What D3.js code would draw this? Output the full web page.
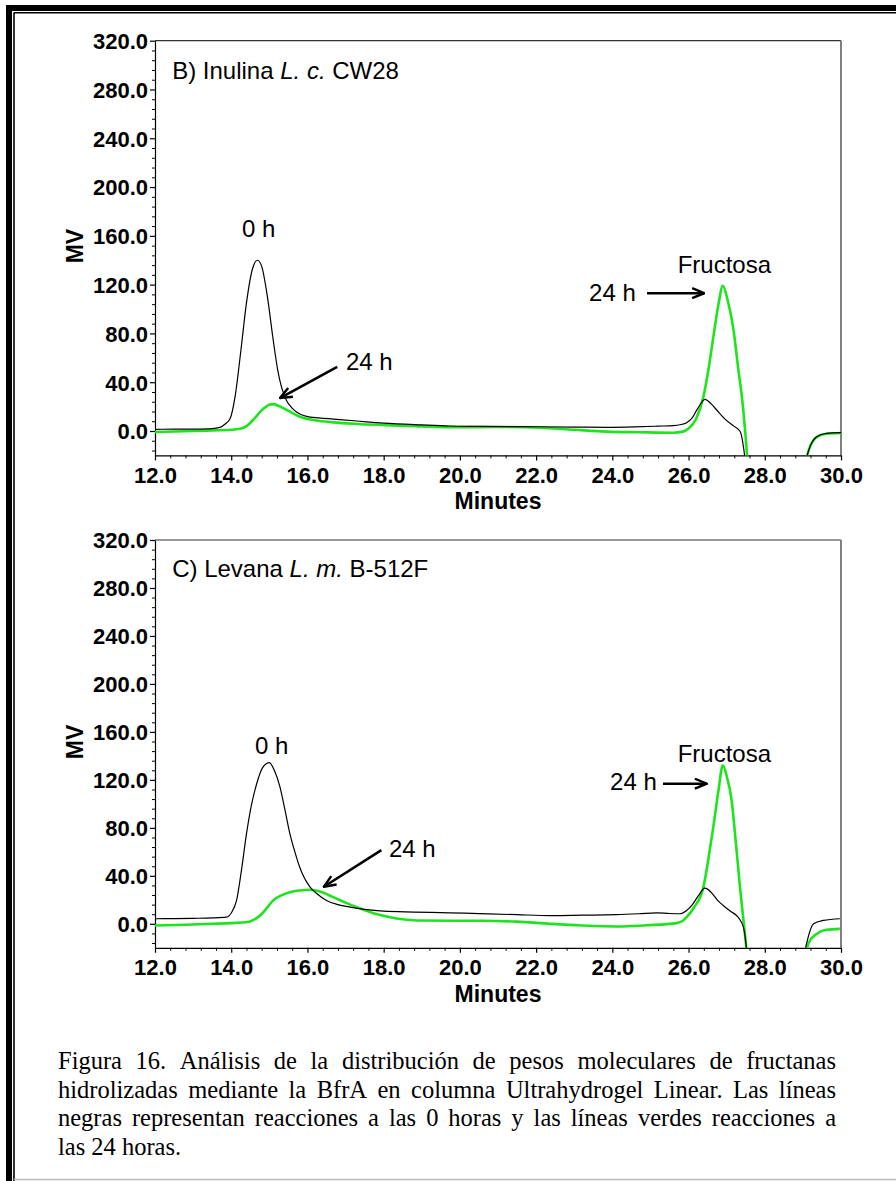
<!DOCTYPE html>
<html>
<head>
<meta charset="utf-8">
<script src="https://cdn.jsdelivr.net/npm/d3@7"></script>
<style>
  html, body { margin: 0; padding: 0; background: #fff; }
  svg { display: block; }
</style>
</head>
<body>
<svg id="fig" width="896" height="1181"></svg>
<script>
// ---- axis ticks ----
const timeTicks = [12, 14, 16, 18, 20, 22, 24, 26, 28, 30];
const mvTicks = [0, 40, 80, 120, 160, 200, 240, 280, 320];
const timeDomain = [12, 30];
const mvDomain = [-20, 320];

// ---- chromatograms: [minutes, mV]; null breaks the trace where it leaves the plot ----
const inulina0h = [
  [12.0, 1.4], [12.5, 1.5], [13.0, 1.6], [13.5, 2.0], [13.7, 3.0], [13.85, 6], [13.97, 10],
  [14.1, 28], [14.25, 65], [14.4, 105], [14.55, 132], [14.69, 140], [14.8, 135], [14.95, 110],
  [15.1, 75], [15.22, 50], [15.32, 36], [15.45, 25], [15.59, 19], [15.8, 14], [15.98, 12],
  [16.3, 10.8], [16.68, 9.8], [17.3, 8.2], [18.0, 6.5], [19.0, 5], [19.74, 4.1], [20.5, 3.8],
  [21.3, 3.6], [22.1, 3.5], [23.0, 3.2], [23.85, 3.0], [24.6, 3.4], [25.2, 4.0], [25.6, 4.4],
  [25.8, 5.3], [25.95, 6.8], [26.1, 11], [26.25, 19], [26.43, 26], [26.6, 22], [26.74, 17.2],
  [26.95, 10], [27.18, 4.2], [27.3, 1.5], [27.37, -1.5], [27.44, -12.9], [27.5, -28],
  null,
  [29.05, -28], [29.15, -16], [29.36, -4.7], [29.62, -1.9], [30.0, -1.4]
];
const inulina24h = [
  [12.0, -0.8], [12.5, -0.4], [13.0, 0], [13.5, 0.5], [14.0, 1.0], [14.23, 1.8], [14.4, 4],
  [14.6, 10], [14.8, 17], [15.0, 21.5], [15.1, 22], [15.25, 20.5], [15.5, 16.5], [15.8, 11.7],
  [16.2, 8.8], [16.67, 7.1], [17.3, 5.8], [18.0, 4.9], [19.0, 3.8], [19.74, 3.2], [20.5, 3.2],
  [21.3, 3.3], [22.1, 2.7], [23.0, 1.0], [23.85, -0.5], [24.7, -1.0], [25.6, -1.4], [25.85, -0.5],
  [26.0, 2], [26.2, 10], [26.39, 28], [26.52, 50], [26.65, 77], [26.78, 103], [26.9, 119],
  [27.02, 108], [27.18, 82.8], [27.3, 52], [27.4, 28], [27.48, 2], [27.53, -18], [27.56, -30],
  null,
  [29.05, -28], [29.15, -16], [29.36, -5], [29.62, -2.2], [30.0, -1.6]
];
const levana0h = [
  [12.0, 4.2], [12.5, 4.4], [13.0, 4.6], [13.5, 4.9], [13.88, 5.5], [14.0, 9], [14.14, 19.5],
  [14.27, 45], [14.4, 75], [14.53, 99], [14.67, 117], [14.82, 130], [15.0, 134.4], [15.13, 128],
  [15.28, 114], [15.41, 95], [15.54, 75], [15.67, 60], [15.8, 47], [16.07, 30.6], [16.25, 25],
  [16.5, 19.5], [16.8, 16], [17.12, 13.9], [17.5, 12], [17.99, 10.5], [18.8, 9.8], [19.74, 9.2],
  [20.5, 8.5], [21.5, 7.6], [22.37, 6.9], [23.2, 7.2], [24.1, 7.6], [24.7, 8.4], [25.16, 9.2],
  [25.5, 8.6], [25.77, 8.4], [25.95, 11.1], [26.1, 16], [26.25, 23], [26.43, 29.7], [26.6, 26],
  [26.75, 20], [26.91, 15.3], [27.1, 10.5], [27.3, 5.5], [27.44, -2.8], [27.5, -15], [27.54, -28],
  null,
  [29.02, -28], [29.1, -16], [29.28, 0], [29.54, 2.8], [29.97, 4.2]
];
const levana24h = [
  [12.0, -1.4], [12.8, -0.8], [13.5, 0], [14.0, 0.6], [14.4, 1.3], [14.6, 3.5], [14.76, 6.9],
  [14.93, 13], [15.1, 19.5], [15.3, 23.5], [15.54, 26.4], [15.8, 27.8], [16.07, 28.4],
  [16.35, 26.8], [16.68, 22.2], [17.05, 17], [17.47, 11.7], [17.8, 8.2], [18.17, 5.5],
  [18.5, 3.8], [18.87, 2.8], [19.74, 2.6], [20.6, 2.6], [21.5, 1.8], [22.37, 0], [23.2, -1.4],
  [24.11, -2.2], [24.9, -1.2], [25.69, 0.6], [25.85, 2.5], [25.95, 5.5], [26.15, 14],
  [26.39, 30.6], [26.52, 54], [26.65, 80.7], [26.78, 110], [26.9, 132.2], [27.01, 122],
  [27.13, 103], [27.24, 68], [27.35, 30.6], [27.44, 3], [27.52, -21], [27.55, -30],
  null,
  [29.06, -28], [29.15, -16], [29.36, -8.4], [29.62, -5], [29.97, -4.2]
];

// ---- panel headings and annotations (anchored in data units) ----
const inulinaTitle = ["B) Inulina ", "L. c.", " CW28"];
const levanaTitle = ["C) Levana ", "L. m.", " B-512F"];
const inulinaNotes = [
  { text: "0 h", t: 14.72, v: 159, anchor: "middle" },
  { text: "24 h", t: 17.01, v: 50, anchor: "start", arrow: [16.78, 52.5, 15.28, 27] },
  { text: "Fructosa", t: 26.94, v: 129.5, anchor: "middle" },
  { text: "24 h", t: 23.39, v: 106.6, anchor: "start", arrow: [24.91, 113, 26.41, 113] }
];
const levanaNotes = [
  { text: "0 h", t: 15.06, v: 141.6, anchor: "middle" },
  { text: "24 h", t: 18.14, v: 55.7, anchor: "start", arrow: [17.94, 61.5, 16.43, 30.9] },
  { text: "Fructosa", t: 26.94, v: 134.9, anchor: "middle" },
  { text: "24 h", t: 23.94, v: 111.6, anchor: "start", arrow: [25.33, 116.8, 26.48, 116.8] }
];

const captionLines = [
  "Figura 16. Análisis de la distribución de pesos moleculares de fructanas",
  "hidrolizadas mediante la BfrA en columna Ultrahydrogel Linear. Las líneas",
  "negras representan reacciones a las 0 horas y las líneas verdes reacciones a",
  "las 24 horas."
];

// ---- drawing ----
const svg = d3.select("#fig");
const SANS = "'Liberation Sans', Arial, sans-serif";
const SERIF = "'Liberation Serif', 'Times New Roman', serif";
const GREEN = "#1ee41e";

// page frame: thick outer rule plus thin inner rule, light rule at the foot
svg.append("rect").attr("x", 6).attr("y", 5).attr("width", 6).attr("height", 1176).attr("fill", "#000");
svg.append("rect").attr("x", 6).attr("y", 5).attr("width", 890).attr("height", 6).attr("fill", "#000");
svg.append("line").attr("x1", 14).attr("x2", 14).attr("y1", 12.5).attr("y2", 1181)
  .attr("stroke", "#000").attr("stroke-width", 1.6);
svg.append("line").attr("x1", 14).attr("x2", 896).attr("y1", 12.8).attr("y2", 12.8)
  .attr("stroke", "#000").attr("stroke-width", 1.6);
svg.append("line").attr("x1", 14).attr("x2", 896).attr("y1", 1179.5).attr("y2", 1179.5)
  .attr("stroke", "#bbb").attr("stroke-width", 1.5);

const defs = svg.append("defs");
defs.append("marker").attr("id", "head")
  .attr("viewBox", "0 0 14 12").attr("refX", 13).attr("refY", 6)
  .attr("markerWidth", 14).attr("markerHeight", 12).attr("markerUnits", "userSpaceOnUse")
  .attr("orient", "auto")
  .append("path").attr("d", "M1,1 L13,6 L1,11").attr("fill", "none")
  .attr("stroke", "#000").attr("stroke-width", 2.4);

function drawPanel(id, cfg) {
  const x = d3.scaleLinear().domain(timeDomain).range([155, 841]);
  const y = d3.scaleLinear().domain(mvDomain).range([cfg.bottom, cfg.top]);
  const g = svg.append("g");

  defs.append("clipPath").attr("id", "clip-" + id)
    .append("rect").attr("x", 155).attr("y", cfg.top)
    .attr("width", 686).attr("height", cfg.bottom - cfg.top);

  // frame top and right
  g.append("line").attr("x1", 155).attr("x2", 841).attr("y1", cfg.top).attr("y2", cfg.top)
    .attr("stroke", "#333").attr("stroke-width", 1.2);
  g.append("line").attr("x1", 841).attr("x2", 841).attr("y1", cfg.top).attr("y2", cfg.bottom)
    .attr("stroke", "#808080").attr("stroke-width", 2);

  // minor ticks
  const minorX = d3.range(12, 30.001, 0.4).filter(v => timeTicks.indexOf(Math.round(v * 10) / 10) < 0);
  const minorY = d3.range(-16, 320.001, 8).filter(v => mvTicks.indexOf(v) < 0);
  g.append("g").attr("transform", `translate(0,${cfg.bottom})`)
    .call(d3.axisBottom(x).tickValues(minorX).tickSize(3).tickFormat(""))
    .call(a => a.select(".domain").remove());
  g.append("g").attr("transform", "translate(155,0)")
    .call(d3.axisLeft(y).tickValues(minorY).tickSize(3).tickFormat(""))
    .call(a => a.select(".domain").remove());

  // major axes
  const fmt = d3.format(".1f");
  const xa = g.append("g").attr("transform", `translate(0,${cfg.bottom})`)
    .call(d3.axisBottom(x).tickValues(timeTicks).tickFormat(fmt).tickSize(5).tickPadding(7).tickSizeOuter(0));
  const ya = g.append("g").attr("transform", "translate(155,0)")
    .call(d3.axisLeft(y).tickValues(mvTicks).tickFormat(fmt).tickSize(5).tickPadding(2).tickSizeOuter(0));
  [xa, ya].forEach(a => {
    a.selectAll("text").attr("font-family", SANS).attr("font-weight", "bold")
      .attr("font-size", 22).attr("fill", "#000");
    a.selectAll("line,path").attr("stroke", "#000").attr("stroke-width", 1.2);
  });
  ya.selectAll("text").attr("dy", "0.36em");

  // axis titles
  g.append("text").attr("x", 498).attr("y", cfg.bottom + 54).attr("text-anchor", "middle")
    .attr("font-family", SANS).attr("font-weight", "bold").attr("font-size", 23).text("Minutes");
  g.append("text").attr("transform", `translate(83,${(cfg.top + cfg.bottom) / 2 - 2}) rotate(-90)`)
    .attr("text-anchor", "middle")
    .attr("font-family", SANS).attr("font-weight", "bold").attr("font-size", 23).text("MV");

  // traces
  const line = d3.line().defined(d => d !== null)
    .x(d => x(d[0])).y(d => y(d[1])).curve(d3.curveMonotoneX);
  const traces = g.append("g").attr("clip-path", `url(#clip-${id})`);
  traces.append("path").datum(cfg.late).attr("d", line)
    .attr("fill", "none").attr("stroke", GREEN).attr("stroke-width", 2.6).attr("stroke-linejoin", "round");
  traces.append("path").datum(cfg.early).attr("d", line)
    .attr("fill", "none").attr("stroke", "#000").attr("stroke-width", 1.2).attr("stroke-linejoin", "round");

  // heading
  const title = g.append("text").attr("x", x(12.45)).attr("y", y(289))
    .attr("font-family", SANS).attr("font-size", 24);
  title.append("tspan").text(cfg.title[0]);
  title.append("tspan").attr("font-style", "italic").text(cfg.title[1]);
  title.append("tspan").text(cfg.title[2]);

  // annotations
  cfg.notes.forEach(n => {
    g.append("text").attr("x", x(n.t)).attr("y", y(n.v)).attr("text-anchor", n.anchor)
      .attr("font-family", SANS).attr("font-size", 24).text(n.text);
    if (n.arrow) {
      const [t0, v0, t1, v1] = n.arrow;
      g.append("line").attr("x1", x(t0)).attr("y1", y(v0)).attr("x2", x(t1)).attr("y2", y(v1))
        .attr("stroke", "#000").attr("stroke-width", 2.6).attr("marker-end", "url(#head)");
    }
  });
}

drawPanel("b", { top: 40.7, bottom: 455.4, early: inulina0h, late: inulina24h,
  title: inulinaTitle, notes: inulinaNotes });
drawPanel("c", { top: 540, bottom: 947.8, early: levana0h, late: levana24h,
  title: levanaTitle, notes: levanaNotes });

// caption: serif paragraph, justified between the margins except the last line
const cap = svg.append("g").attr("font-family", SERIF).attr("font-size", 24.5).attr("fill", "#000");
const capLeft = 58, capRight = 836, capTop = 1069, capLead = 28.5;
captionLines.forEach((ln, i) => {
  const yy = capTop + i * capLead;
  const words = ln.split(" ");
  if (i === captionLines.length - 1) {
    cap.append("text").attr("x", capLeft).attr("y", yy).text(ln);
    return;
  }
  const nodes = words.map(w => cap.append("text").attr("y", yy).text(w));
  const widths = nodes.map(n => n.node().getComputedTextLength());
  const gap = (capRight - capLeft - d3.sum(widths)) / (words.length - 1);
  let cx = capLeft;
  nodes.forEach((n, k) => { n.attr("x", cx); cx += widths[k] + gap; });
});
</script>
</body>
</html>
